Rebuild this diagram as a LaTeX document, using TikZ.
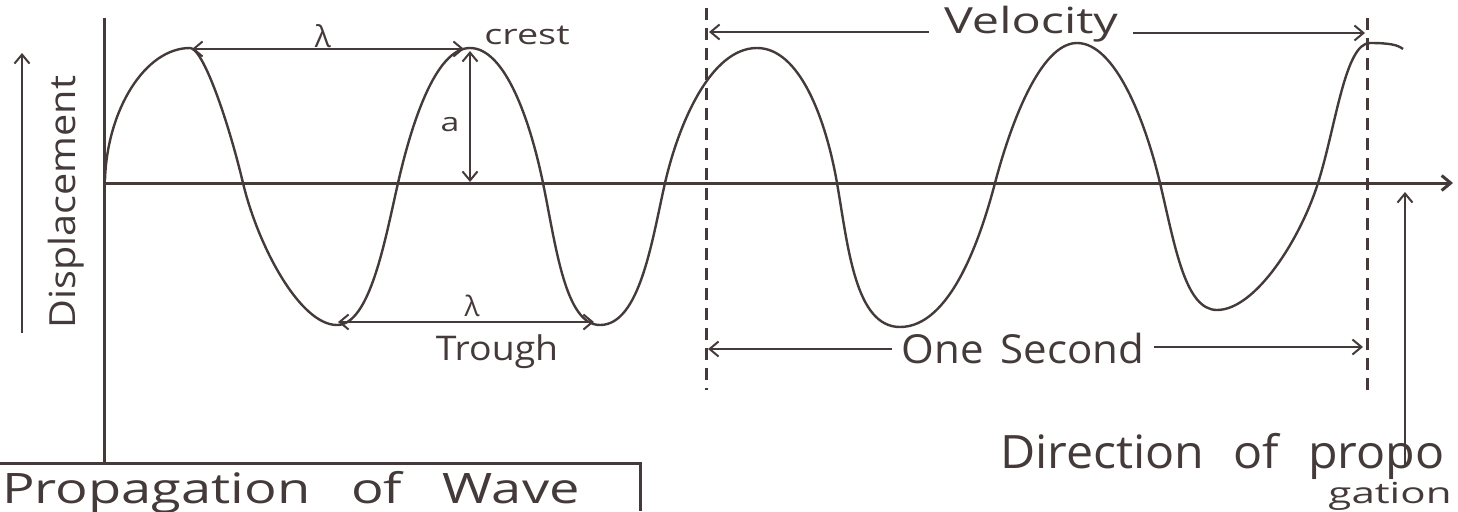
\documentclass[tikz,border=0pt]{standalone}
\usepackage{fontspec}
\usepackage{graphicx}
\setmainfont{Open Sans}
\usetikzlibrary{arrows.meta}
\definecolor{ink}{RGB}{68,58,58}
\newcommand{\handtxt}[4]{\scalebox{#1}[1]{\fontsize{#2}{#2}\selectfont\spaceskip=#3 plus 0.1em #4}}
\begin{document}
\begin{tikzpicture}[x=1pt,y=-1pt,color=ink,
  >={Straight Barb[length=9pt,width=15pt]},
  axisline/.style={line width=3pt},
  wave/.style={line width=2.4pt},
  dim/.style={line width=2pt},
  dashline/.style={line width=3pt,dash pattern=on 12pt off 8pt},
  lbl/.style={inner sep=0pt,text=ink}]
\useasboundingbox (0,0) rectangle (1458,511);
% axes
\coordinate (O) at (104,183);
\coordinate (xend) at (1453,183);
\coordinate (ytop) at (104,18);
\coordinate (ybot) at (104,463);
\draw[axisline,->] (O) -- (xend);
\draw[axisline] (ytop) -- (ybot);
% bottom box
\coordinate (bl) at (0,463);
\coordinate (br) at (640,463);
\coordinate (brb) at (640,511);
\draw[axisline] (bl) -- (br) -- (brb);
% wave
\draw[wave] (105,180)
  .. controls (107,110) and (145,48) .. (190,48)
  .. controls (203,48) and (228,120) .. (243,183)
  .. controls (258,246) and (300,325) .. (337,325)
  .. controls (370,325) and (385,240) .. (398,183)
  .. controls (411,126) and (435,48) .. (470,48)
  .. controls (505,48) and (530,120) .. (543,183)
  .. controls (556,246) and (565,325) .. (600,325)
  .. controls (640,325) and (652,240) .. (665,183)
  .. controls (678,126) and (710,48) .. (757,48)
  .. controls (800,48) and (826,120) .. (837,183)
  .. controls (848,246) and (855,327) .. (900,327)
  .. controls (950,327) and (980,240) .. (995,183)
  .. controls (1010,126) and (1040,43) .. (1077,43)
  .. controls (1115,43) and (1145,120) .. (1160,183)
  .. controls (1175,246) and (1185,310) .. (1217,310)
  .. controls (1255,310) and (1300,240) .. (1318,183)
  .. controls (1336,126) and (1345,43) .. (1370,43)
  .. controls (1390,43) and (1398,45) .. (1403,49);
% displacement label and arrow
\node[lbl,rotate=90] (disp) at (66,202) {\handtxt{1.1}{36}{0.3em}{Displacement}};
\coordinate (dbot) at (22,333);
\coordinate (dtop) at (22,53);
\draw[dim,->] (dbot) -- (dtop);
% top lambda
\coordinate (lt1) at (192,49);
\coordinate (lt2) at (464,49);
\draw[dim,<->] (lt1) -- (lt2);
\node[lbl] (lamtop) at (323,36) {\fontsize{30}{30}\selectfont λ};
\node[lbl] (crest) at (527,35) {\handtxt{1.35}{28}{0.3em}{crest}};
% amplitude
\coordinate (aTop) at (470,51);
\coordinate (aBot) at (470,182);
\draw[dim,<->] (aTop) -- (aBot);
\node[lbl] (alab) at (450,125) {\handtxt{1.3}{26}{0.3em}{a}};
% bottom lambda
\coordinate (lb1) at (338,322);
\coordinate (lb2) at (594,322);
\draw[dim,<->] (lb1) -- (lb2);
\node[lbl] (lambot) at (472,306) {\fontsize{28}{28}\selectfont λ};
\node[lbl] (trough) at (497,352) {\handtxt{1.1}{34}{0.3em}{Trough}};
% dashed lines
\coordinate (d1t) at (706,8);
\coordinate (d1b) at (706,390);
\coordinate (d2t) at (1367,18);
\coordinate (d2b) at (1367,395);
\draw[dashline] (d1t) -- (d1b);
\draw[dashline] (d2t) -- (d2b);
% velocity
\node[lbl,inner xsep=15pt] (vel) at (1031,24) {\handtxt{1.35}{36}{0.3em}{Velocity}};
\coordinate (vL) at (709,32);
\coordinate (vR) at (1365,33);
\draw[dim,->] (vel.west |- vL) -- (vL);
\draw[dim,->] (vel.east |- vR) -- (vR);
% one second
\node[lbl,inner xsep=10pt] (onesec) at (1023,348) {\handtxt{1.05}{40}{0.4em}{One Second}};
\coordinate (sL) at (708,349);
\coordinate (sR) at (1363,347);
\draw[dim,->] (onesec.west |- sL) -- (sL);
\draw[dim,->] (onesec.east |- sR) -- (sR);
% direction of propagation
\node[lbl,anchor=base west] (dirn) at (1000,468) {\handtxt{1.05}{46}{0.6em}{Direction of propo}};
\node[lbl] (gation) at (1390,496) {\handtxt{1.45}{29}{0.3em}{gation}};
\coordinate (pbot) at (1405,467);
\coordinate (ptop) at (1405,192);
\draw[dim,->] (pbot) -- (ptop);
% caption
\node[lbl,anchor=base west] (cap) at (2,503) {\handtxt{1.29}{42}{0.75em}{Propagation of Wave}};
\end{tikzpicture}
\end{document}
